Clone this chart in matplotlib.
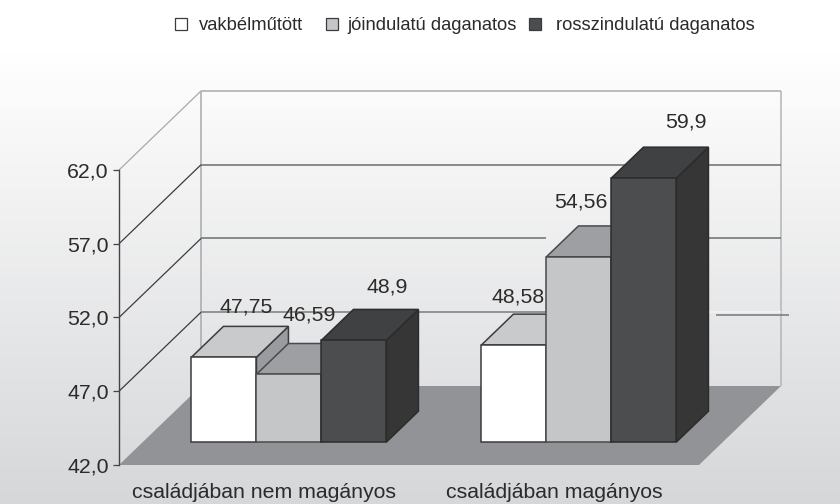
import numpy as np
import matplotlib
matplotlib.use("Agg")
import matplotlib.pyplot as plt
from matplotlib.colors import LinearSegmentedColormap
from matplotlib.patches import Polygon, Rectangle

# --- dados ---
categorias = ["családjában nem magányos", "családjában magányos"]
series = ["vakbélműtött", "jóindulatú daganatos", "rosszindulatú daganatos"]
vakbel = [47.75, 48.58]
joindulatu = [46.59, 54.56]
rosszindulatu = [48.9, 59.9]
rotulos = [["47,75", "48,58"], ["46,59", "54,56"], ["48,9", "59,9"]]
y_ticks = [42, 47, 52, 57, 62]
y_tick_labels = ["42,0", "47,0", "52,0", "57,0", "62,0"]

W, H = 840, 504
plt.rcParams["font.family"] = ["Liberation Sans", "DejaVu Sans"]
COR_TEXTO = "#2b2b2b"

# cores de cada serie: frente, topo, lado, borda
cores = [
    ("#ffffff", "#c9cacc", "#9a9b9e", "#3c3c3e"),
    ("#c5c6c8", "#9e9fa2", "#9e9fa2", "#4a4a4c"),
    ("#4c4d4f", "#404143", "#363636", "#2c2c2c"),
]

# profundidade 3D em unidades de dados (d=0 frente, d=1 parede do fundo)
DEPTH_X = 82 / 290
DEPTH_Y = 79 / 14.75


def p3(x, y, d):
    return (x + DEPTH_X * d, y + DEPTH_Y * d)


fig = plt.figure(figsize=(W / 100, H / 100), dpi=100)

# fundo em degrade
bg = fig.add_axes([0, 0, 1, 1], zorder=0)
grad = np.clip((np.arange(H) - 50) / (H - 50), 0, 1).reshape(-1, 1)
cmap = LinearSegmentedColormap.from_list("fundo", ["#ffffff", "#d6d7d9"])
bg.imshow(grad, cmap=cmap, aspect="auto", extent=(0, W, H, 0), vmin=0, vmax=1)
bg.axis("off")

ax = fig.add_axes([119 / W, (H - 465) / H, 580 / W, 295 / H], zorder=1)
ax.patch.set_visible(False)
ax.set_xlim(0, 2)
ax.set_ylim(42, 62)
for lado in ["top", "right", "bottom"]:
    ax.spines[lado].set_visible(False)
ax.spines["left"].set_color("#444446")
ax.spines["left"].set_linewidth(1.0)
ax.set_yticks(y_ticks)
ax.set_yticklabels(y_tick_labels, fontsize=15.3, color=COR_TEXTO)
ax.tick_params(axis="y", length=4.5, width=0.9, color="#444446", pad=3)
ax.set_xticks([0.5, 1.5])
ax.set_xticklabels(categorias, fontsize=15.3, color=COR_TEXTO)
ax.tick_params(axis="x", length=0, pad=13)


def linha(a, b, **kw):
    ax.plot([a[0], b[0]], [a[1], b[1]], clip_on=False, solid_capstyle="butt", **kw)


# chao
ax.add_patch(Polygon([p3(0, 42, 0), p3(0, 42, 1), p3(2, 42, 1), p3(2, 42, 0)],
                     facecolor="#929396", edgecolor="none", clip_on=False, zorder=1))

# paredes
COR_PAREDE = "#a8a9ab"
linha(p3(0, 42, 1), p3(0, 62, 1), color=COR_PAREDE, lw=1.1, zorder=1.5)
linha(p3(0, 62, 1), p3(2, 62, 1), color=COR_PAREDE, lw=1.1, zorder=1.5)
linha(p3(2, 42, 1), p3(2, 62, 1), color="#b4b5b7", lw=1.1, zorder=1.5)
linha(p3(0, 62, 0), p3(0, 62, 1), color=COR_PAREDE, lw=0.9, zorder=1.5)

# grade: diagonais da parede lateral e linhas do fundo
for t in y_ticks[1:-1]:
    linha(p3(0, t, 0), p3(0, t, 1), color="#3c3c3e", lw=0.9, zorder=1.5)
linha(p3(0, 57, 1), p3(2, 57, 1), color="#6c6d6f", lw=1.1, zorder=1.5)
linha(p3(0, 52, 1), p3(1.19, 52, 1), color="#6c6d6f", lw=1.1, zorder=1.5)
linha(p3(1.6, 52, 1), p3(2, 52, 1), color="#6c6d6f", lw=1.1, zorder=1.5)
linha(p3(0, 47, 1), p3(1.2, 47, 1), color="#7a7b7d", lw=1.1, zorder=1.5)
# trecho deslocado que existe no original, a direita
linha(p3(1.45, 47, 1), p3(2, 47, 1), color="#f4f4f5", lw=1.1, zorder=1.5)
linha(p3(1.776, 46.8, 1), p3(2.028, 46.8, 1), color="#77787a", lw=1.1, zorder=1.5)

# barras 3D
valores = [vakbel, joindulatu, rosszindulatu]
LARGURA = 65 / 290
GAP = 0.1676
D0, D1 = 0.291, 0.681
zb = 2
for c in range(len(categorias)):
    for s in range(len(series)):
        v = valores[s][c]
        x0 = c + GAP + s * LARGURA
        x1 = x0 + LARGURA
        frente, topo, lado, borda = cores[s]
        estilo = dict(edgecolor=borda, linewidth=1.1, clip_on=False, joinstyle="miter")
        ax.add_patch(Polygon([p3(x1, 42, D0), p3(x1, 42, D1), p3(x1, v, D1), p3(x1, v, D0)],
                             facecolor=lado, zorder=zb, **estilo))
        ax.add_patch(Polygon([p3(x0, v, D0), p3(x0, v, D1), p3(x1, v, D1), p3(x1, v, D0)],
                             facecolor=topo, zorder=zb + 0.1, **estilo))
        ax.add_patch(Polygon([p3(x0, 42, D0), p3(x1, 42, D0), p3(x1, v, D0), p3(x0, v, D0)],
                             facecolor=frente, zorder=zb + 0.2, **estilo))
        zb += 1

# rotulos de valor (deslocamento em pixels a partir do canto da frente)
desloc = [[(22, 50), (4, 48)], [(20, 59), (2, 55)], [(33, 53), (42, 56)]]
for s in range(len(series)):
    for c in range(len(categorias)):
        x = c + GAP + (s + 0.5) * LARGURA
        ax.annotate(rotulos[s][c], xy=p3(x, valores[s][c], D0), xytext=desloc[s][c],
                    textcoords="offset pixels", ha="center", va="center",
                    fontsize=15.3, color=COR_TEXTO, zorder=30, annotation_clip=False)

# legenda
quad_x = [175, 326, 529]
texto_x = [199, 347, 556]
for s, nome in enumerate(series):
    fig.add_artist(Rectangle((quad_x[s] / W, 1 - 30 / H), 12 / W, 12 / H, transform=fig.transFigure,
                             facecolor=cores[s][0], edgecolor="#3c3c3e", linewidth=0.9))
    fig.text(texto_x[s] / W, 1 - 25.5 / H, nome, fontsize=13.2, color=COR_TEXTO,
             ha="left", va="center")

fig.savefig("out.png", dpi=100)
